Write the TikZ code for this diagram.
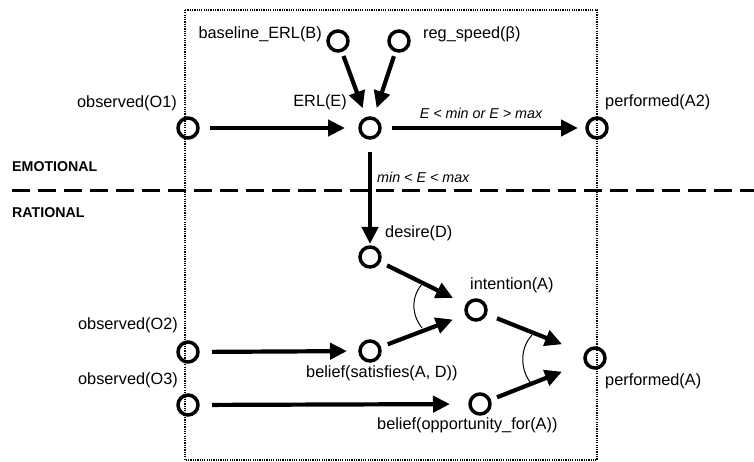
\documentclass[tikz,border=0pt]{standalone}
\usepackage{fontspec}
\setmainfont{Liberation Sans}
\usetikzlibrary{arrows.meta}
\begin{document}
\begin{tikzpicture}[x=1pt,y=-1pt,
  state/.style={circle,draw,line width=3.5pt,minimum size=20pt,inner sep=0pt,outer sep=0pt},
  lbl/.style={inner sep=0pt,font=\fontsize{16.3}{19}\selectfont},
  cond/.style={inner sep=0pt,font=\fontsize{14.3}{17}\selectfont\itshape},
  layer/.style={inner sep=0pt,font=\fontsize{14.2}{17}\selectfont\bfseries},
  flow/.style={line width=4.2pt,-{Triangle[length=17pt,width=16pt]}},
  andarc/.style={line width=1pt},
  frame/.style={line width=2.2pt,dash pattern=on 1.2pt off 1.1pt},
  divider/.style={line width=3pt,dash pattern=on 18pt off 8pt},
]
\useasboundingbox (0,0) rectangle (754,462);

% agent boundary and layer divider
\draw[frame] (185,10) rectangle (597,460);
\draw[divider] (12,191) -- (754,191);
\node[layer,anchor=west] (emo) at (12,167) {EMOTIONAL};
\node[layer,anchor=west] (rat) at (12,213) {RATIONAL};

% states
\node[state] (O1) at (188,128) {};
\node[state] (E)  at (370,128) {};
\node[state] (B)  at (338,41) {};
\node[state] (bt) at (399,41) {};
\node[state] (A2) at (597,128) {};
\node[state] (D)  at (370,257) {};
\node[state] (I)  at (476,310) {};
\node[state] (O2) at (188,352) {};
\node[state] (S)  at (370,351) {};
\node[state] (O3) at (188,405) {};
\node[state] (P)  at (480,404) {};
\node[state] (A)  at (595,358) {};

% state labels
\node[lbl,anchor=east] (lO1) at (177,103) {observed(O1)};
\node[lbl,anchor=east] (lB)  at (322,34)  {baseline\_ERL(B)};
\node[lbl,anchor=west] (lbt) at (423,34)  {reg\_speed(β)};
\node[lbl,anchor=east] (lE)  at (347,102) {ERL(E)};
\node[lbl,anchor=west] (lA2) at (605,102) {performed(A2)};
\node[lbl,anchor=west] (lD)  at (385,233) {desire(D)};
\node[lbl,anchor=west] (lI)  at (470,285) {intention(A)};
\node[lbl,anchor=east] (lO2) at (178,325) {observed(O2)};
\node[lbl,anchor=east] (lO3) at (178,380) {observed(O3)};
\node[lbl,anchor=west] (lS)  at (306,373) {belief(satisfies(A, D))};
\node[lbl,anchor=west] (lP)  at (377,425) {belief(opportunity\_for(A))};
\node[lbl,anchor=west] (lA)  at (605,381) {performed(A)};

% transition conditions
\node[cond] (c1) at (481,113) {E < min or E > max};
\node[cond,anchor=west] (c2) at (377,177) {min < E < max};

% emotional layer
\draw[flow,shorten <=12pt,shorten >=15pt] (O1) -- (E);
\draw[flow,shorten <=6pt,shorten >=11pt] (B) -- (E);
\draw[flow,shorten <=6pt,shorten >=11pt] (bt) -- (E);
\draw[flow,shorten <=12pt,shorten >=9pt] (E) -- (A2);
\draw[flow,shorten <=14pt,shorten >=3pt] (E) -- (D);

% rational layer
\draw[flow,shorten <=14pt,shorten >=13pt] (O2) -- (S);
\draw[flow,shorten <=14pt,shorten >=20pt] (O3) -- (P);
\draw[flow,shorten <=9pt,shorten >=16pt] (D) -- (I.150);
\draw[flow,shorten <=9pt,shorten >=15pt] (S) -- (I.205);
\draw[flow,shorten <=12.6pt,shorten >=25.7pt] (I) -- (A.155);
\draw[flow,shorten <=8.3pt,shorten >=25.7pt] (P) -- (A.205);

% conjunction arcs
\draw[andarc] (423,283) .. controls (411,296) and (411,314) .. (422,328);
\draw[andarc] (532,335) .. controls (520,348) and (520,368) .. (530,382);
\end{tikzpicture}
\end{document}
